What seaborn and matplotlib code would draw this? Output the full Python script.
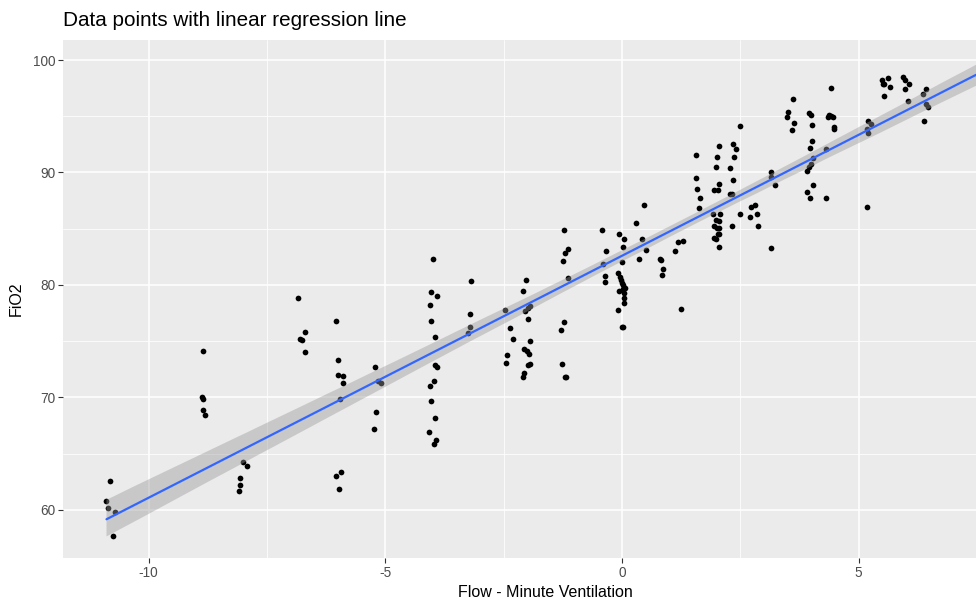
import numpy as np
import pandas as pd
import matplotlib
matplotlib.use("Agg")
import matplotlib.pyplot as plt
from matplotlib.ticker import MultipleLocator
import seaborn as sns

title = "Data points with linear regression line"
x_label = "Flow - Minute Ventilation"
y_label = "FiO2"
x_ticks = [-10, -5, 0, 5]
y_ticks = [60, 70, 80, 90, 100]

flow = [
    -10.82, -10.89, -10.86, -10.70, -10.75,
    -8.85, -8.88, -8.86, -8.85, -8.80,
    -8.00, -7.92, -8.07, -8.07, -8.10,
    -6.85, -6.80, -6.75, -6.70, -6.70,
    -6.05, -6.00, -6.00, -5.90, -5.90, -5.95, -5.93, -6.04, -5.97,
    -5.22, -5.16, -5.10, -5.20, -5.24,
    -3.99, -4.03, -3.91, -4.05, -4.03, -3.96, -3.94, -3.91, -3.98, -4.05, -4.03, -3.94, -4.08, -3.93, -3.97,
    -3.18, -3.20, -3.20, -3.25,
    -2.47, -2.37, -2.30, -2.42, -2.45,
    -2.03, -2.08, -2.04, -1.98, -1.94, -1.98, -1.94, -2.06, -2.01, -1.96, -1.94, -1.99, -2.06, -2.09,
    -1.23, -1.21, -1.13, -1.25, -1.13, -1.23, -1.28, -1.26, -1.20, -1.18,
    -0.42, -0.33, -0.40, -0.36, -0.36,
    -0.06, 0.05, 0.03, 0.01, -0.09, -0.04, -0.01, 0.00, 0.02, 0.07, 0.02, 0.05, -0.07, 0.05, 0.05, -0.09, 0.01, 0.03,
    0.30, 0.46, 0.42, 0.50, 0.37, 0.81, 0.83, 0.86, 0.85,
    1.12, 1.18, 1.30, 1.25,
    1.57, 1.56, 1.59, 1.65, 1.63,
    2.05, 2.00, 1.99, 2.05, 1.95, 2.02, 1.93, 2.07, 1.98, 2.05, 1.95, 2.01, 2.04, 2.06, 2.02, 1.95, 1.99, 2.05,
    2.34, 2.41, 2.37, 2.29, 2.34, 2.29, 2.32, 2.49, 2.32, 2.49,
    2.73, 2.82, 2.70, 2.85, 2.87,
    3.14, 3.15, 3.24, 3.15,
    3.61, 3.51, 3.48, 3.63, 3.60,
    3.95, 3.99, 4.02, 4.02, 3.97, 4.04, 3.99, 3.95, 3.91, 4.04, 3.90, 3.98,
    4.31, 4.31, 4.42, 4.35, 4.37, 4.42, 4.46, 4.48, 4.48,
    5.20, 5.26, 5.17, 5.20, 5.18,
    5.50, 5.51, 5.54, 5.63, 5.66, 5.53,
    5.94, 5.99, 6.06, 5.99, 6.04,
    6.35, 6.43, 6.42, 6.47, 6.39,
]

fio2 = [
    62.6, 60.8, 60.2, 59.8, 57.7,
    74.1, 70.0, 69.85, 68.9, 68.4,
    64.3, 63.9, 62.8, 62.2, 61.7,
    78.8, 75.2, 75.1, 75.8, 74.0,
    76.8, 73.3, 72.0, 71.9, 71.3, 69.9, 63.4, 63.0, 61.9,
    72.7, 71.5, 71.3, 68.7, 67.2,
    82.3, 79.4, 79.05, 78.2, 76.8, 75.35, 72.9, 72.7, 71.5, 71.0, 69.7, 68.15, 66.9, 66.2, 65.9,
    80.35, 77.4, 76.3, 75.7,
    77.8, 76.2, 75.2, 73.8, 73.1,
    80.4, 79.5, 77.7, 77.95, 78.1, 77.0, 75.0, 74.3, 74.1, 73.9, 73.0, 72.9, 72.2, 71.8,
    84.9, 82.8, 83.2, 82.1, 80.65, 76.7, 76.0, 73.0, 71.85, 71.85,
    84.9, 83.0, 81.9, 80.8, 80.3,
    84.5, 84.1, 83.4, 82.0, 81.1, 80.7, 80.4, 80.2, 80.0, 79.7, 79.6, 79.25, 79.5, 78.8, 78.4, 77.8, 76.3, 76.25,
    85.5, 87.1, 84.05, 83.1, 82.3, 82.3, 82.2, 81.45, 80.9,
    83.0, 83.85, 83.95, 77.9,
    91.55, 89.5, 88.55, 87.7, 86.8,
    92.35, 91.35, 90.5, 89.0, 88.4, 88.4, 86.3, 86.3, 85.8, 85.7, 85.2, 85.1, 85.05, 84.5, 84.5, 84.2, 84.1, 83.35,
    92.5, 92.05, 91.4, 90.4, 89.3, 88.1, 88.05, 86.3, 85.2, 94.1,
    86.9, 87.1, 86.0, 86.3, 85.2,
    90.0, 89.6, 88.9, 83.3,
    96.55, 95.4, 94.9, 94.4, 93.8,
    95.25, 95.1, 94.2, 92.8, 92.15, 91.25, 90.75, 90.45, 90.1, 88.9, 88.3, 87.7,
    92.05, 87.7, 97.5, 94.95, 95.15, 95.0, 94.9, 94.05, 93.9,
    94.55, 94.35, 93.85, 93.5, 86.95,
    98.2, 97.9, 97.85, 98.4, 97.6, 96.8,
    98.45, 98.2, 97.9, 97.4, 96.4,
    97.0, 97.4, 96.05, 95.85, 94.55,
]

df = pd.DataFrame({"flow": flow, "fio2": fio2})

sns.set_theme(rc={
    "axes.facecolor": "#EBEBEB",
    "figure.facecolor": "white",
    "grid.color": "white",
    "axes.edgecolor": "#EBEBEB",
})
plt.rcParams["font.family"] = ["Liberation Sans", "DejaVu Sans"]

fig, ax = plt.subplots(figsize=(9.76, 6.03), dpi=100)
fig.subplots_adjust(left=0.0645, right=1.0, bottom=0.0746, top=0.9337)

xmin, xmax = -11.81, 7.48
ymin, ymax = 55.73, 101.78

# regression line from the data's lowest x to the right edge of the panel
ax.set_xlim(min(flow), xmax)
ax.set_ylim(ymin, ymax)
sns.regplot(data=df, x="flow", y="fio2", scatter=False, truncate=False,
            ci=95, n_boot=1000, seed=3, color="#3366FF",
            line_kws=dict(lw=1.6, zorder=4), ax=ax)
for coll in ax.collections:
    coll.set_facecolor("#999999")
    coll.set_alpha(0.42)
    coll.set_edgecolor("none")
    coll.set_zorder(3)

sns.scatterplot(data=df, x="flow", y="fio2", color="black", s=17,
                linewidth=0, ax=ax, zorder=2)

ax.set_xlim(xmin, xmax)
ax.set_ylim(ymin, ymax)

ax.set_xticks(x_ticks)
ax.set_yticks(y_ticks)
ax.set_xticklabels([str(t) for t in x_ticks])
ax.set_yticklabels([str(t) for t in y_ticks])
ax.xaxis.set_minor_locator(MultipleLocator(2.5))
ax.yaxis.set_minor_locator(MultipleLocator(5))
ax.grid(which="major", color="white", lw=1.1)
ax.grid(which="minor", color="white", lw=0.55)
ax.set_axisbelow(True)
for s in ax.spines.values():
    s.set_visible(False)

ax.tick_params(which="major", length=3.5, width=0.8, color="#333333",
               labelcolor="#4D4D4D", labelsize=9.8, pad=2,
               bottom=True, left=True)
ax.tick_params(which="minor", length=0)

ax.set_xlabel(x_label, fontsize=11.5, color="black")
ax.set_ylabel(y_label, fontsize=11.5, color="black")
ax.xaxis.set_label_coords(0.528, -0.052)
ax.yaxis.set_label_coords(-0.043, 0.5)

fig.text(63 / 976, 1 - 20 / 603, title, ha="left", va="center",
         fontsize=14.9, color="black")

fig.savefig("out.png", dpi=100)
